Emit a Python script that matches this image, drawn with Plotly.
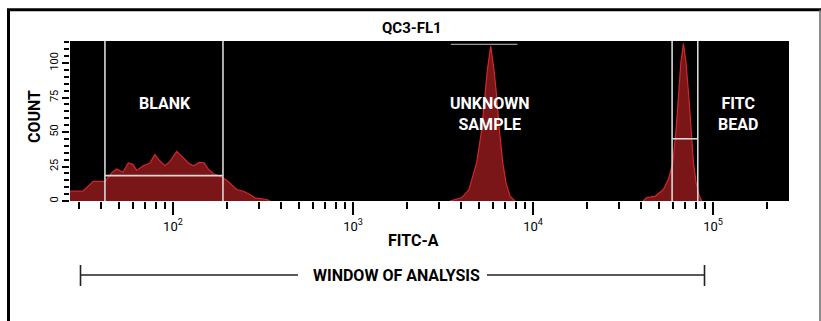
import math
import plotly.graph_objects as go

# ---- histogram data (FITC-A intensity vs event count) ----
blank_fitc = [26.8, 31.6, 36.1, 41.9, 45.6, 48.7, 52.7, 56.5, 60.0, 62.9, 68.4, 74.5,
              79.4, 83.9, 90.3, 96.2, 105, 112, 122, 130, 140, 149, 157, 167, 182,
              199, 212, 226, 246, 268, 285, 332, 346]
blank_count = [7.1, 7.1, 14.3, 14.3, 20.4, 23.2, 20.8, 27.6, 26.4, 22.2, 25.6, 27.6,
               33.6, 29.5, 25.6, 28.7, 36.0, 32.3, 27.6, 25.6, 28.0, 27.6, 23.2, 19.9,
               17.9, 15.0, 11.9, 8.3, 7.1, 4.7, 2.3, 1.1, 0]

unknown_fitc = [3459, 4018, 4406, 4863, 5186, 5412, 5573, 5819, 6070, 6283, 6497,
                6787, 7079, 7451, 7943]
unknown_count = [0, 2.5, 8.3, 27.8, 51.6, 75.7, 94.9, 112.3, 94.9, 75.7, 51.6,
                 27.8, 13.1, 3.5, 0]

bead_fitc = [40840, 42890, 47640, 52970, 56440, 59760, 62280, 64120, 66170, 68410,
             70790, 73300, 75450, 77780, 80480, 83960, 86520]
bead_count = [0, 2.5, 3.4, 8.3, 15.5, 27.8, 51.6, 75.7, 99.8, 114.2, 99.8, 75.7,
              51.6, 27.8, 13.1, 3.5, 0]

# ---- gates ----
blank_gate_fitc = [41.9, 189.6]
blank_gate_count = 18.4
bead_gate_fitc = [59200, 82200]
bead_gate_count = 45.1
unknown_marker_fitc = [3493, 8186]
unknown_marker_count = 113.5

# ---- axes ----
fitc_range = [26.8, 264000]
count_max = 116
x_tick_vals = [100, 1000, 10000, 100000]
x_tick_text = ["10<sup>2</sup>", "10<sup>3</sup>", "10<sup>4</sup>", "10<sup>5</sup>"]
y_tick_vals = [0, 25, 50, 75, 100]

FONT = "Roboto, Liberation Sans, sans-serif"
FILL = "#7a1518"
EDGE = "#d0282c"
GATE = "#d8d8d8"

W, H = 821, 321
L, R, T, B = 70, 32, 41, 120
PW, PH = W - L - R, H - T - B


def px(x):
    return (x - L) / PW


def py(y):
    return (H - B - y) / PH


fig = go.Figure()

for xs, ys in [(blank_fitc, blank_count), (unknown_fitc, unknown_count), (bead_fitc, bead_count)]:
    fig.add_trace(go.Scatter(x=xs, y=ys, mode="lines", fill="tozeroy",
                             fillcolor=FILL, line=dict(color=EDGE, width=1.2),
                             hoverinfo="skip"))

# region gates: two full-height bounds plus the threshold bar
for (g0, g1), gy in [(blank_gate_fitc, blank_gate_count), (bead_gate_fitc, bead_gate_count)]:
    fig.add_trace(go.Scatter(x=[g0, g0, None, g1, g1, None, g0, g1],
                             y=[0, count_max, None, 0, count_max, None, gy, gy],
                             mode="lines", line=dict(color=GATE, width=1.6),
                             hoverinfo="skip"))

fig.add_trace(go.Scatter(x=unknown_marker_fitc, y=[unknown_marker_count] * 2,
                         mode="lines", line=dict(color="#9a9a9a", width=1.2),
                         hoverinfo="skip"))

minor_vals = [m * 10 ** e for e in range(1, 6) for m in range(2, 10)
              if fitc_range[0] <= m * 10 ** e <= fitc_range[1]]

fig.update_xaxes(type="log", range=[math.log10(v) for v in fitc_range],
                 tickmode="array", tickvals=x_tick_vals, ticktext=x_tick_text,
                 ticks="outside", ticklen=13, tickwidth=1.5, tickcolor="black",
                 minor=dict(tickmode="array", tickvals=minor_vals, ticks="outside",
                            ticklen=7, tickwidth=1.5, tickcolor="black"),
                 showgrid=False, zeroline=False, showline=False,
                 tickfont=dict(family=FONT, size=13, color="black"))

fig.update_yaxes(range=[0, count_max], tickmode="array", tickvals=y_tick_vals,
                 ticks="outside", ticklen=7, tickwidth=1.5, tickcolor="black",
                 minor=dict(dtick=5, ticks="outside", ticklen=5, tickwidth=1.5,
                            tickcolor="black"),
                 tickangle=-90, showgrid=False, zeroline=False, showline=False,
                 tickfont=dict(family=FONT, size=11, color="black"))


def label(text, x, y, size, color="black", bold=True, angle=0):
    fig.add_annotation(text=f"<b>{text}</b>" if bold else text,
                       x=px(x), y=py(y), xref="paper", yref="paper",
                       xanchor="center", yanchor="middle", showarrow=False,
                       textangle=angle,
                       font=dict(family=FONT, size=size, color=color))


label("QC3-FL1", 412, 28, 15)
label("COUNT", 34, 117, 16, angle=-90)
label("FITC-A", 413, 240, 16)
label("WINDOW OF ANALYSIS", 396, 275, 16)
label("BLANK", 165, 103, 16, color="white")
label("UNKNOWN<br>SAMPLE", 490, 114, 16, color="white")
label("FITC<br>BEAD", 738, 114, 16, color="white")

shapes = []


def line(x0, y0, x1, y1, width, color="black"):
    shapes.append(dict(type="line", xref="paper", yref="paper",
                       x0=px(x0), y0=py(y0), x1=px(x1), y1=py(y1),
                       line=dict(color=color, width=width)))


# window-of-analysis bracket
line(80.5, 275, 298, 275, 1.6, "#222")
line(487, 275, 704.5, 275, 1.6, "#222")
line(80.5, 265, 80.5, 286, 1.6, "#222")
line(704.5, 265, 704.5, 286, 1.6, "#222")

# outer frame
line(8.5, 9.7, 8.5, 330, 3)
line(7, 9.7, 821, 9.7, 3)
line(820, 9.7, 820, 330, 1.5, "#666")

fig.update_layout(width=W, height=H, autosize=False,
                  margin=dict(l=L, r=R, t=T, b=B),
                  paper_bgcolor="white", plot_bgcolor="black",
                  showlegend=False, shapes=shapes)

fig.write_html("out.html")
